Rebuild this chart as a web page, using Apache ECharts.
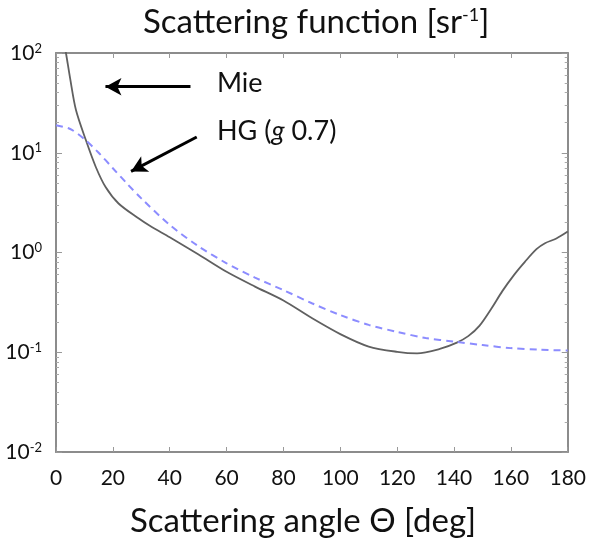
<!DOCTYPE html>
<html>
<head>
<meta charset="utf-8">
<script src="https://cdn.jsdelivr.net/npm/echarts@6.0.0/dist/echarts.min.js"></script>
<style>
  html, body { margin: 0; padding: 0; background: #fff; }
  #chart { width: 589px; height: 546px; }
</style>
</head>
<body>
<div id="chart"></div>
<script>
// scattering phase functions
var mieAngle = [2, 3.5, 5, 7, 10.5, 14, 17.5, 22, 29, 33, 40, 50, 60, 70, 80, 90, 100, 110, 120, 127, 135, 141, 145, 149, 153, 157, 161, 165, 169, 172, 176, 180];
var mieValue = [170, 100, 55, 27, 13.4, 7.2, 4.5, 3.1, 2.2, 1.85, 1.42, 0.96, 0.64, 0.455, 0.33, 0.22, 0.152, 0.114, 0.101, 0.0975, 0.108, 0.125, 0.145, 0.185, 0.27, 0.41, 0.59, 0.81, 1.08, 1.24, 1.38, 1.62];

var hgAngle = [0, 5, 10, 15, 20, 25, 30, 40, 50, 60, 70, 80, 90, 100, 110, 120, 130, 140, 150, 160, 170, 180];
var hgValue = [18.9, 17.3, 13.7, 10.0, 7.0, 4.9, 3.49, 1.89, 1.16, 0.78, 0.56, 0.42, 0.31, 0.236, 0.188, 0.16, 0.139, 0.128, 0.118, 0.11, 0.106, 0.104];

// annotation arrows [from, to] in data coords
var mieArrow = [[47.3, 45.9], [17.4, 45.9]];
var hgArrow = [[49.5, 14.4], [26.4, 6.5]];

// minor ticks of the log axis, in decades
var minorTicks = [];
[-2, -1, 0, 1].forEach(function (e) {
  for (var k = 2; k <= 9; k++) minorTicks.push(e + Math.log10(k));
});

var FONT = 'Lato';
var axisGray = '#8c8c8c';

var myChart = echarts.init(document.getElementById('chart'), null, { renderer: 'canvas' });

function zip(a, b) {
  return a.map(function (v, i) { return [v, b[i]]; });
}

var frameX = function (pos, labels) {
  return {
    type: 'value', position: pos, min: 0, max: 180, interval: 20,
    axisLine: { show: true, onZero: false, lineStyle: { color: axisGray, width: 2 } },
    axisTick: { show: true, inside: true, length: 5, lineStyle: { color: '#999' } },
    axisLabel: { show: labels, margin: 16, fontFamily: FONT, fontSize: 21, color: '#111' },
    splitLine: { show: false }
  };
};

var frameY = function (pos, labels) {
  return {
    type: 'log', logBase: 10, position: pos, min: 0.01, max: 100,
    axisLine: { show: true, onZero: false, lineStyle: { color: axisGray, width: 2 } },
    axisTick: { show: true, inside: true, length: 6, lineStyle: { color: '#999' } },
    axisLabel: {
      show: labels, margin: 14,
      formatter: function (v) {
        return '{b|10}{s|' + Math.round(Math.log10(v)) + '}';
      },
      rich: {
        b: { fontFamily: FONT, fontSize: 21, color: '#111', lineHeight: 22 },
        s: { fontFamily: FONT, fontSize: 13, color: '#111', verticalAlign: 'top', lineHeight: 12 }
      }
    },
    splitLine: { show: false }
  };
};

var minorY = function (pos) {
  return {
    type: 'value', position: pos, min: -2, max: 2,
    axisLine: { show: false, onZero: false },
    axisTick: { show: true, inside: true, length: 3, customValues: minorTicks, lineStyle: { color: '#aaa' } },
    axisLabel: { show: false },
    splitLine: { show: false }
  };
};

var option = {
  backgroundColor: '#fff',
  animation: false,
  title: [
    {
      text: 'Scattering function [sr{s|-1}]',
      left: 138, top: 1,
      textStyle: {
        fontFamily: FONT, fontSize: 33, fontWeight: 'normal', color: '#111',
        rich: { s: { fontFamily: FONT, fontSize: 18, color: '#111', verticalAlign: 'top', lineHeight: 18 } }
      }
    },
    {
      text: 'Scattering angle \u0398 [deg]',
      left: 125, top: 500,
      textStyle: { fontFamily: FONT, fontSize: 33, fontWeight: 'normal', color: '#111' }
    }
  ],
  grid: { left: 56, right: 17, top: 53, bottom: 94 },
  xAxis: [frameX('bottom', true), frameX('top', false)],
  yAxis: [frameY('left', true), frameY('right', false), minorY('left'), minorY('right')],
  graphic: [
    {
      type: 'text', left: 217, top: 70,
      style: { text: 'Mie', fontFamily: FONT, fontSize: 27, fill: '#111' }
    },
    {
      type: 'text', left: 217, top: 118,
      style: {
        text: 'HG ({i|g} 0.7)', fontFamily: FONT, fontSize: 27, fill: '#111',
        rich: { i: { fontFamily: FONT, fontSize: 27, fontStyle: 'italic', fill: '#111' } }
      }
    }
  ],
  series: [
    {
      name: 'Mie', type: 'line', data: zip(mieAngle, mieValue),
      xAxisIndex: 0, yAxisIndex: 0,
      smooth: 0.3, showSymbol: false, clip: true,
      lineStyle: { color: '#606060', width: 1.8 },
      markLine: {
        silent: true, animation: false,
        symbol: ['none', 'arrow'], symbolSize: [13, 16],
        label: { show: false },
        lineStyle: { color: '#000', width: 3, type: 'solid' },
        data: [
          [{ coord: mieArrow[0] }, { coord: mieArrow[1] }],
          [{ coord: hgArrow[0] }, { coord: hgArrow[1] }]
        ]
      }
    },
    {
      name: 'HG', type: 'line', data: zip(hgAngle, hgValue),
      xAxisIndex: 0, yAxisIndex: 0,
      smooth: 0.3, showSymbol: false, clip: true,
      lineStyle: { color: '#8c8cff', width: 2, type: [7, 5] }
    }
  ]
};

myChart.setOption(option);
</script>
</body>
</html>
